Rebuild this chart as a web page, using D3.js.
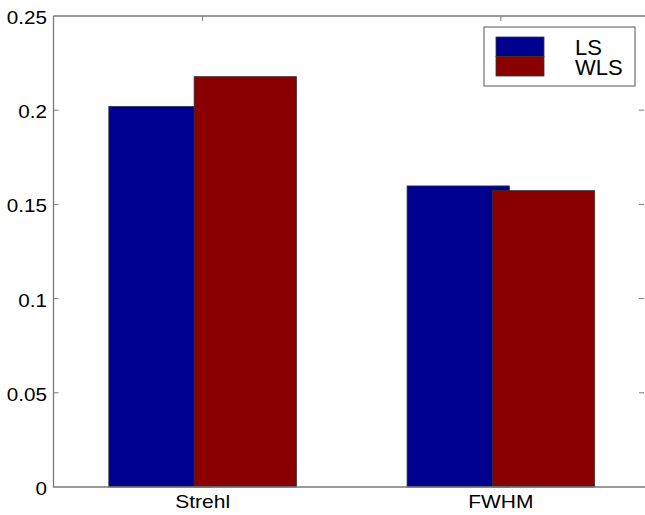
<!DOCTYPE html>
<meta charset="utf-8">
<style>
  body { margin: 0; background: #fff; }
  text { font-family: "Liberation Sans", Arial, sans-serif; fill: #000; }
</style>
<body>
<svg id="chart" width="645" height="515"></svg>
<script src="https://d3js.org/d3.v7.min.js"></script>
<script>
  // data
  const categories = ["Strehl", "FWHM"];
  const seriesNames = ["LS", "WLS"];
  const lsValues = [0.202, 0.1598];
  const wlsValues = [0.2178, 0.1573];
  const yTicks = [0, 0.05, 0.1, 0.15, 0.2, 0.25];
  const yTickLabels = ["0", "0.05", "0.1", "0.15", "0.2", "0.25"];

  const colors = ["#000090", "#8a0000"];
  const series = [lsValues, wlsValues];

  var svg = d3.select("svg#chart");

  const plotLeft = 53.5, plotRight = 650, plotTop = 16, plotBottom = 487;

  const x = d3.scaleLinear().domain([0.5, 2.5]).range([plotLeft, plotRight]);
  const y = d3.scaleLinear().domain([0, 0.25]).range([plotBottom, plotTop]);

  // bar geometry in x units (matlab style grouped, slightly overlapping)
  const barOffset = [-0.143, 0.143];
  const barWidth = 0.343;

  const axisColor = "#7a7a7a";

  // bottom ticks (pointing up, hidden under bars)
  svg.selectAll("line.xtickb")
    .data(categories)
    .enter().append("line")
    .attr("x1", (d, i) => x(i + 1)).attr("x2", (d, i) => x(i + 1))
    .attr("y1", plotBottom).attr("y2", plotBottom - 5)
    .attr("stroke", axisColor).attr("stroke-width", 1);

  // bars
  series.forEach((vals, s) => {
    svg.selectAll("rect.s" + s)
      .data(vals)
      .enter().append("rect")
      .attr("class", "s" + s)
      .attr("x", (d, i) => x(i + 1 + barOffset[s] - barWidth / 2))
      .attr("width", x(barWidth) - x(0))
      .attr("y", d => y(d))
      .attr("height", d => y(0) - y(d))
      .attr("fill", colors[s])
      .attr("stroke", "#333")
      .attr("stroke-width", 0.8);
  });

  // axes box
  svg.append("path")
    .attr("d", `M${plotLeft},${plotTop}H${plotRight}M${plotLeft},${plotTop}V${plotBottom}H${plotRight}`)
    .attr("fill", "none")
    .attr("stroke", axisColor)
    .attr("stroke-width", 1.3);

  // y ticks left and right
  svg.selectAll("line.ytl")
    .data(yTicks.slice(1, -1))
    .enter().append("line")
    .attr("x1", plotLeft).attr("x2", plotLeft + 5)
    .attr("y1", d => y(d)).attr("y2", d => y(d))
    .attr("stroke", axisColor).attr("stroke-width", 1);
  svg.selectAll("line.ytr")
    .data(yTicks.slice(1, -1))
    .enter().append("line")
    .attr("x1", 644).attr("x2", 639)
    .attr("y1", d => y(d)).attr("y2", d => y(d))
    .attr("stroke", axisColor).attr("stroke-width", 1);

  // top ticks
  svg.selectAll("line.xtickt")
    .data(categories)
    .enter().append("line")
    .attr("x1", (d, i) => x(i + 1)).attr("x2", (d, i) => x(i + 1))
    .attr("y1", plotTop).attr("y2", plotTop + 5)
    .attr("stroke", axisColor).attr("stroke-width", 1);

  // y tick labels (slightly wide, like the original)
  svg.selectAll("text.ylab")
    .data(yTicks)
    .enter().append("text")
    .attr("transform", d => `translate(47,${y(d) + 8}) scale(1.18,1)`)
    .attr("text-anchor", "end")
    .style("font-size", "17.5px")
    .text((d, i) => yTickLabels[i]);

  // x labels
  svg.selectAll("text.xlab")
    .data(categories)
    .enter().append("text")
    .attr("transform", (d, i) => `translate(${x(i + 1)},507.5) scale(1.2,1)`)
    .attr("text-anchor", "middle")
    .style("font-size", "17.5px")
    .text(d => d);

  // legend
  const lg = svg.append("g");
  lg.append("rect")
    .attr("x", 484).attr("y", 27).attr("width", 151).attr("height", 59)
    .attr("fill", "#fff").attr("stroke", "#555").attr("stroke-width", 1);
  seriesNames.forEach((name, s) => {
    lg.append("rect")
      .attr("x", 496).attr("y", 37 + s * 19.5)
      .attr("width", 48).attr("height", 19.5)
      .attr("fill", colors[s]).attr("stroke", "#333").attr("stroke-width", 0.8);
    lg.append("text")
      .attr("x", 575).attr("y", 55 + s * 20)
      .style("font-size", "22px")
      .text(name);
  });
</script>
</body>
